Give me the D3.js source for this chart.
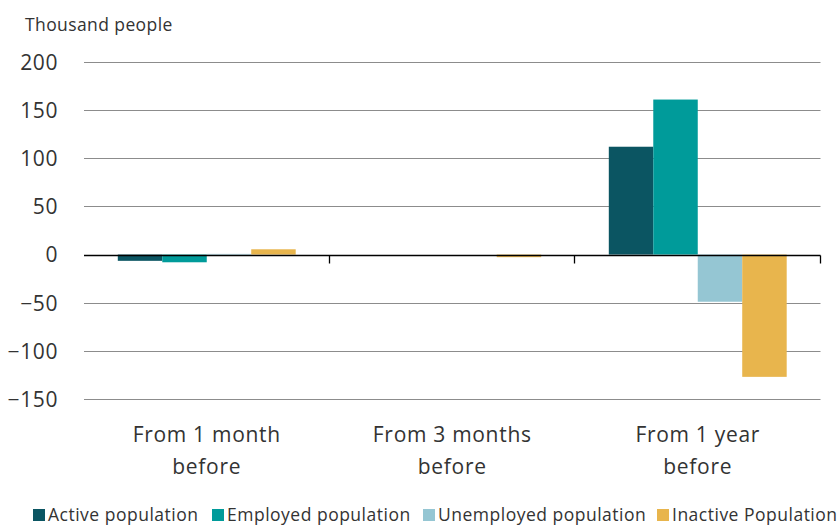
<!DOCTYPE html>
<html>
<head>
<meta charset="utf-8">
<script src="https://cdn.jsdelivr.net/npm/d3@7"></script>
<style>
  html, body { margin: 0; padding: 0; background: #fff; }
  svg { display: block; font-family: "Open Sans", "Noto Sans", sans-serif; }
</style>
</head>
<body>
<svg id="chart" width="840" height="525"></svg>
<script>
// Change in population by labour status, thousand people
const periods = [["From 1 month", "before"], ["From 3 months", "before"], ["From 1 year", "before"]];
const seriesNames = ["Active population", "Employed population", "Unemployed population", "Inactive Population"];
const activeValues = [-6.5, 0, 112];
const employedValues = [-8, 0, 161];
const unemployedValues = [0.7, 0, -49];
const inactiveValues = [5.5, -2.7, -127];
const yTicks = [200, 150, 100, 50, 0, -50, -100, -150];
const colors = ["#0b5562", "#009b9a", "#95c6d3", "#e8b54d"];

const seriesValues = [activeValues, employedValues, unemployedValues, inactiveValues];

const svg = d3.select("#chart");
const plotLeft = 84, plotRight = 820.5, plotTop = 62, plotBottom = 399;
const textColor = "#333";

const y = d3.scaleLinear().domain([-150, 200]).range([plotBottom, plotTop]);
const x0 = d3.scaleBand().domain(d3.range(periods.length)).range([plotLeft, plotRight]).paddingInner(0).paddingOuter(0);
const x1 = d3.scaleBand().domain(d3.range(seriesNames.length))
  .range([0, x0.bandwidth()]).paddingOuter(0.76).paddingInner(0);

// Horizontal gridlines
svg.append("g")
  .selectAll("line")
  .data(yTicks.filter(d => d !== 0))
  .join("line")
  .attr("x1", plotLeft).attr("x2", plotRight)
  .attr("y1", d => Math.round(y(d)) + 0.5).attr("y2", d => Math.round(y(d)) + 0.5)
  .attr("stroke", "#8c8c8c").attr("stroke-width", 1);

// Y axis labels
const yAxis = d3.axisLeft(y).tickValues(yTicks).tickSize(0).tickPadding(0);
const yg = svg.append("g").attr("transform", "translate(58,0)").call(yAxis);
yg.select(".domain").remove();
yg.selectAll("text")
  .attr("font-size", 21).attr("fill", textColor)
  .attr("font-family", "\"Open Sans\", sans-serif")
  .attr("letter-spacing", 0.6)
  .attr("dy", "0.35em");

// Bars
const groups = svg.append("g")
  .selectAll("g")
  .data(periods.map((p, i) => i))
  .join("g")
  .attr("transform", i => `translate(${x0(i)},0)`);

groups.selectAll("rect")
  .data(i => seriesValues.map((vals, s) => ({ s, v: vals[i] })))
  .join("rect")
  .attr("x", d => x1(d.s))
  .attr("width", x1.bandwidth())
  .attr("y", d => y(Math.max(0, d.v)))
  .attr("height", d => Math.abs(y(d.v) - y(0)))
  .attr("fill", d => colors[d.s]);

// Zero line and category ticks
const zeroY = Math.round(y(0)) + 0.5;
svg.append("line")
  .attr("x1", plotLeft).attr("x2", plotRight)
  .attr("y1", zeroY).attr("y2", zeroY)
  .attr("stroke", "#000").attr("stroke-width", 1.3);

svg.append("g")
  .selectAll("line")
  .data(d3.range(1, periods.length + 1))
  .join("line")
  .attr("x1", i => Math.round(x0.step() * i + plotLeft) - 0.5)
  .attr("x2", i => Math.round(x0.step() * i + plotLeft) - 0.5)
  .attr("y1", zeroY).attr("y2", zeroY + 8)
  .attr("stroke", "#000").attr("stroke-width", 1.3);

// Category labels
const labels = svg.append("g")
  .selectAll("text")
  .data(periods)
  .join("text")
  .attr("x", (d, i) => x0(i) + x0.bandwidth() / 2)
  .attr("y", 442)
  .attr("text-anchor", "middle")
  .attr("font-size", 21).attr("letter-spacing", 0.7).attr("fill", textColor);
labels.selectAll("tspan")
  .data(d => d)
  .join("tspan")
  .attr("x", function () { return d3.select(this.parentNode).attr("x"); })
  .attr("dy", (d, j) => j === 0 ? 0 : 32)
  .text(d => d);

// Axis title
svg.append("text")
  .attr("x", 25).attr("y", 31)
  .attr("font-size", 17.5).attr("letter-spacing", 0.4).attr("fill", textColor)
  .text("Thousand people");

// Legend
const legendX = [33, 212, 423, 657];
const legend = svg.append("g")
  .selectAll("g")
  .data(seriesNames)
  .join("g")
  .attr("transform", (d, i) => `translate(${legendX[i]},509)`);
legend.append("rect")
  .attr("width", 12).attr("height", 12)
  .attr("fill", (d, i) => colors[i]);
legend.append("text")
  .attr("x", 15).attr("y", 11.5)
  .attr("font-size", 17.5).attr("letter-spacing", 0.5).attr("fill", textColor)
  .text(d => d);
</script>
</body>
</html>
